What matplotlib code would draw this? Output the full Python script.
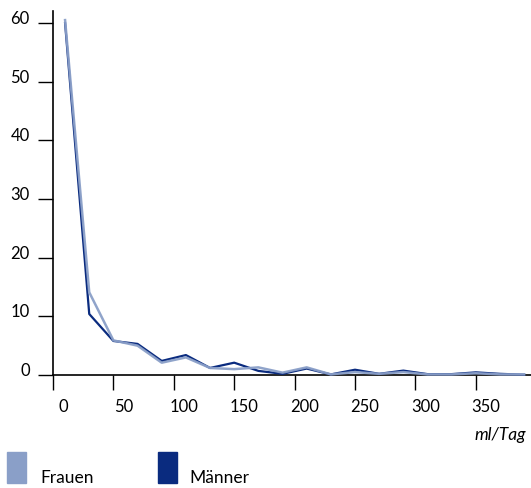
import matplotlib
matplotlib.use('Agg')
import matplotlib.pyplot as plt
from matplotlib.patches import Rectangle
from matplotlib.transforms import ScaledTranslation
import numpy as np

# Klassenmitten (ml/Tag) und Anteile in %
x_mid = [10, 30, 50, 70, 90, 110, 130, 150, 170, 190,
         210, 230, 250, 270, 290, 310, 330, 350, 370, 390]
frauen = [60.5, 14.1, 5.9, 5.0, 2.1, 3.0, 1.2, 1.0, 1.3, 0.4,
          1.3, 0.1, 0.5, 0.2, 0.5, 0.1, 0.1, 0.3, 0.1, 0.1]
maenner = [60.0, 10.4, 5.8, 5.3, 2.4, 3.4, 1.2, 2.1, 0.7, 0.2,
           1.1, 0.1, 0.9, 0.2, 0.75, 0.15, 0.15, 0.45, 0.2, 0.05]
x_ticks = [0, 50, 100, 150, 200, 250, 300, 350]
y_ticks = [0, 10, 20, 30, 40, 50, 60]

col_f = '#8a9fc8'
col_m = '#0a2b7f'
font = 'Lato'

W, H = 531, 489
fig = plt.figure(figsize=(W / 100, H / 100), dpi=100)
ax = fig.add_axes([53 / W, (H - 376) / H, (W - 53) / W, (376 - 12) / H])

ax.plot(x_mid, maenner, color=col_m, lw=1.6, clip_on=False, zorder=3)
ax.plot(x_mid, frauen, color=col_f, lw=1.8, clip_on=False, zorder=4, alpha=0.95)

ax.set_xlim(0, 395.7)
ax.set_ylim(0, 62.05)

for s in ['top', 'right']:
    ax.spines[s].set_visible(False)
for s in ['left', 'bottom']:
    ax.spines[s].set_linewidth(1.2)
    ax.spines[s].set_color('black')

ax.set_xticks(x_ticks)
ax.set_yticks(y_ticks)
ax.set_xticklabels([str(v) for v in x_ticks], family=font, fontsize=12)
ax.set_yticklabels([str(v) for v in y_ticks], family=font, fontsize=12)
ax.tick_params(axis='both', direction='out', length=10.8, width=1.0, color='black')
ax.tick_params(axis='x', pad=6)
ax.tick_params(axis='y', pad=6)

# Beschriftungen leicht versetzt wie im Original
for lab in ax.get_xticklabels():
    lab.set_transform(lab.get_transform() + ScaledTranslation(10 / 100, 0, fig.dpi_scale_trans))
for lab in ax.get_yticklabels():
    lab.set_va('baseline')

fig.text(526 / W, 1 - 440 / H, 'ml/Tag', ha='right', va='baseline',
         family=font, style='italic', fontsize=12.5)

# Legende
fig.patches.append(Rectangle((7 / W, 1 - 484 / H), 19 / W, 31 / H,
                             transform=fig.transFigure, color=col_f))
fig.patches.append(Rectangle((158 / W, 1 - 484 / H), 19 / W, 31 / H,
                             transform=fig.transFigure, color=col_m))
fig.text(40 / W, 1 - 483 / H, 'Frauen', ha='left', va='baseline', family=font, fontsize=12.5)
fig.text(189 / W, 1 - 483 / H, 'Männer', ha='left', va='baseline', family=font, fontsize=12.5)

fig.savefig('out.png', dpi=100)
